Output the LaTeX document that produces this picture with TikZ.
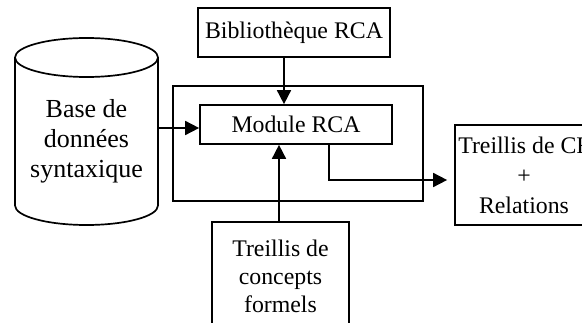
\documentclass[tikz,border=0pt]{standalone}
\usepackage{fontspec}
\setmainfont{Liberation Serif}
\usetikzlibrary{arrows.meta}
\begin{document}
\begin{tikzpicture}[x=1pt,y=1pt,
  lw/.style={line width=1.7pt},
  boxst/.style={draw, lw, inner sep=0pt, align=center,
     font=\fontsize{23.8}{30}\selectfont},
  arr/.style={lw, -{Triangle[length=14pt,width=14pt]}},
  txt/.style={align=center, font=\fontsize{23.8}{30}\selectfont}]
\useasboundingbox (0,0) rectangle (582,322);
% cylinder
\node[minimum width=143pt, minimum height=187pt, inner sep=0pt] (db) at (86.5,190.5) {};
\draw[lw] (15,264.5) -- (15,116.5) arc (180:360:71.5 and 19.5) -- (158,264.5);
\draw[lw] (86.5,264.5) ellipse (71.5 and 19.5);
\node[txt, font=\fontsize{26}{30}\selectfont] (dbt) at (86.5,181) {Base de\\données\\syntaxique};
% outer box
\node[draw, lw, minimum width=250pt, minimum height=115pt] (outer) at (298,178.5) {};
% boxes
\node[boxst, minimum width=192pt, minimum height=49pt] (bib) at (294,289.5) {Bibliothèque RCA};
\node[boxst, minimum width=192pt, minimum height=39pt] (mod) at (296,197.5) {Module RCA};
\node[draw, line width=1.2pt, inner sep=0pt, txt, font=\fontsize{23.8}{28}\selectfont,
      minimum width=137pt, minimum height=108pt] (tc) at (280.5,46) {Treillis de\\concepts\\formels};
\node[boxst, minimum width=138pt, minimum height=100pt] (cf) at (524,147) {Treillis de CF\\+\\Relations};
% helper coordinates
\coordinate (ax) at (284,0);
\coordinate (ay) at (0,194);
\coordinate (bx) at (329,0);
\coordinate (by) at (0,142);
% connectors
\draw[arr] (bib.south -| ax) -- (mod.north -| ax);
\draw[arr] (db.east |- ay) -- (mod.west |- ay);
\draw[arr] (tc.north -| 279,0) -- (mod.south -| 279,0);
\draw[arr, shorten >=7pt] (mod.south -| bx) -- (bx |- by) -- (cf.west |- by);
\end{tikzpicture}
\end{document}
